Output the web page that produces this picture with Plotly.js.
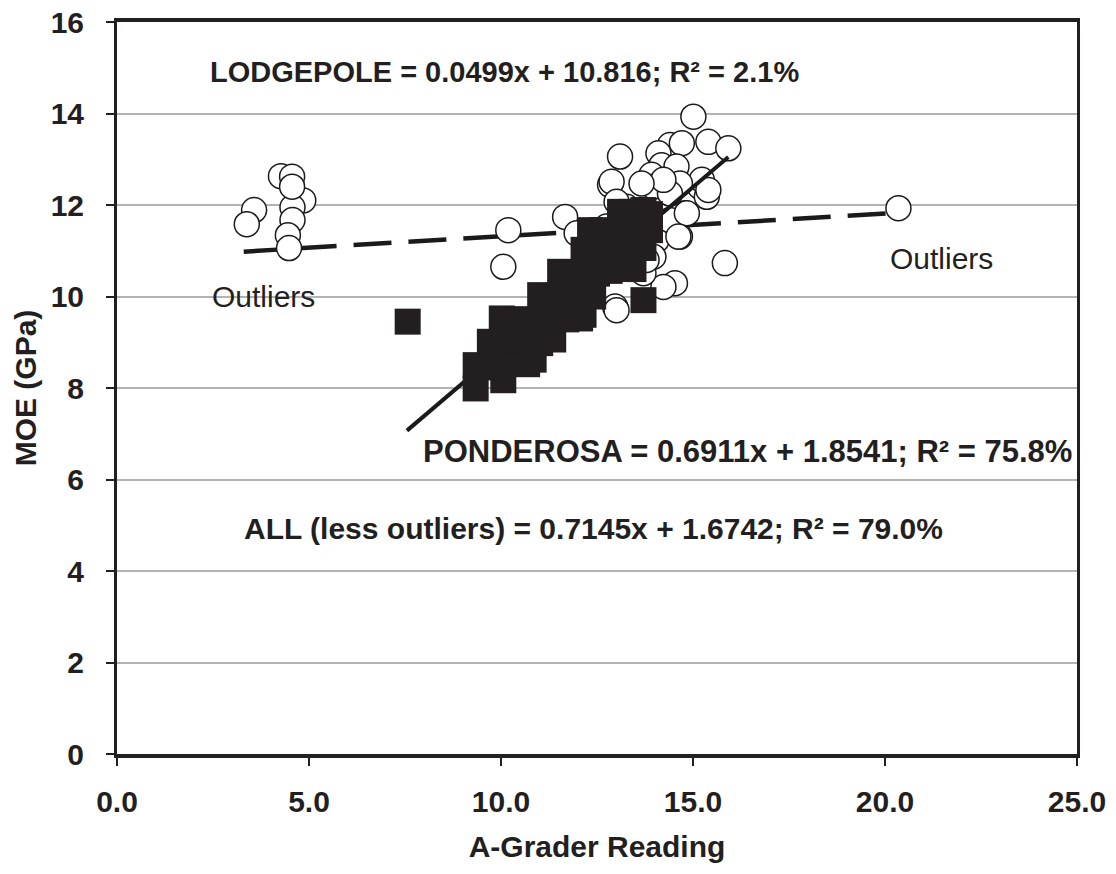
<!DOCTYPE html>
<html><head><meta charset="utf-8">
<script src="https://cdn.plot.ly/plotly-3.0.1.min.js"></script>
<style>body{margin:0;background:#fff}#chart{width:1116px;height:874px}</style>
</head><body><div id="chart"></div>
<script>
// Lodgepole (open circles)
const lodgeX = [3.57,3.38,4.27,4.56,4.85,4.57,4.57,4.45,4.48,4.56,
  10.19,10.06,11.67,11.97,13.10,12.84,12.88,15.83,14.53,14.23,12.97,14.66,14.79,14.05,13.97,13.71,13.45,12.75,13.27,14.32,15.18,15.36,14.40,
  15.01,15.40,15.92,14.40,14.10,14.71,14.18,14.57,13.92,13.97,15.23,15.40,14.66,14.40,14.84,13.62,13.01,14.23,13.66,14.62,13.01,13.79,20.35];
const lodgeY = [11.89,11.58,12.63,12.62,12.10,11.95,11.67,11.34,11.06,12.40,
  11.45,10.65,11.74,11.38,13.06,12.44,12.51,10.73,10.29,10.21,9.78,11.31,11.82,11.23,10.87,10.51,10.65,11.53,11.96,12.11,12.40,12.18,11.67,
  13.93,13.38,13.24,13.31,13.13,13.35,12.87,12.84,12.66,12.40,12.55,12.33,12.47,12.25,11.82,11.89,12.07,12.55,12.47,11.31,9.70,10.80,11.93];
// Ponderosa (filled squares)
const pondX = [7.57, 9.34,10.06, 9.34,9.65,9.97,10.30,10.68,10.85, 9.71,10.00,10.32,10.68,11.02,11.36,
  10.02,10.35,10.68,11.02,11.36,11.70,12.06,12.15, 11.02,11.35,11.71,12.05,12.40,13.71,
  11.54,11.85,12.14,12.50,12.83,13.45, 12.15,12.45,12.75,13.05,13.36,13.71,
  12.32,12.62,12.92,13.22,13.53,13.88, 13.10,13.40,13.71,13.88];
const pondY = [9.45, 7.99,8.17, 8.50,8.45,8.48,8.55,8.52,8.62, 9.01,9.00,9.03,9.05,8.98,9.06,
  9.52,9.50,9.50,9.48,9.55,9.50,9.52,9.60, 10.03,10.00,10.05,10.05,10.00,9.92,
  10.54,10.50,10.52,10.50,10.56,10.60, 11.02,11.00,11.04,11.00,11.00,11.06,
  11.45,11.45,11.43,11.45,11.47,11.45, 11.85,11.85,11.89,11.80];
// Trend lines
const lodgeSlope = 0.0499, lodgeInt = 10.816, lodgeRange = [3.3, 20.1];
const allSlope = 0.7145, allInt = 1.6742, allRange = [7.55, 15.92];
const eqLodge = "LODGEPOLE = 0.0499x + 10.816; R² = 2.1%";
const eqPond = "PONDEROSA = 0.6911x + 1.8541; R² = 75.8%";
const eqAll = "ALL (less outliers) = 0.7145x + 1.6742; R² = 79.0%";

const traces = [
  {x: lodgeRange, y: lodgeRange.map(v => lodgeSlope*v + lodgeInt), mode:'lines',
   line:{color:'#1a1a1a', width:4.5, dash:'38px,17px'}, hoverinfo:'skip'},
  {x: lodgeX, y: lodgeY, mode:'markers', name:'Lodgepole',
   marker:{symbol:'circle', size:25, color:'#ffffff', line:{color:'#1a1a1a', width:1.5}}},
  {x: allRange, y: allRange.map(v => allSlope*v + allInt), mode:'lines',
   line:{color:'#1a1a1a', width:4}, hoverinfo:'skip'},
  {x: pondX, y: pondY, mode:'markers', name:'Ponderosa',
   marker:{symbol:'square', size:26, color:'#231f20', line:{width:0}}}
];

const FAM = 'Liberation Sans, Arial, sans-serif';
const bold = {family:FAM, size:30, color:'#231f20', weight:'bold'};
const bold29 = {family:FAM, size:29, color:'#231f20', weight:'bold'};
const bold31 = {family:FAM, size:31, color:'#231f20', weight:'bold'};
const plain = {family:FAM, size:30, color:'#231f20'};
const layout = {
  width:1116, height:874,
  margin:{l:117, r:39, t:22, b:120},
  paper_bgcolor:'#fff', plot_bgcolor:'#fff',
  showlegend:false,
  xaxis:{range:[0,25], dtick:5, tick0:0, tickformat:'.1f', showgrid:false, zeroline:false,
    showline:true, mirror:true, linecolor:'#231f20', linewidth:3.5,
    ticks:'outside', ticklen:8, tickwidth:2, tickcolor:'#231f20', ticklabelstandoff:10,
    tickfont:bold, title:{text:'A-Grader Reading', font:bold, standoff:20}},
  yaxis:{range:[0,16], dtick:2, tick0:0, showgrid:true, gridcolor:'#b3b3b3', gridwidth:1.5, zeroline:false,
    showline:true, mirror:true, linecolor:'#231f20', linewidth:3,
    ticks:'outside', ticklen:8, tickwidth:2, tickcolor:'#231f20', ticklabelstandoff:16,
    tickfont:bold, title:{text:'MOE (GPa)', font:bold, standoff:6}},
  annotations:[
    {x:2.37, y:14.91, xref:'x', yref:'y', text:eqLodge, showarrow:false, xanchor:'left', font:bold29},
    {x:7.92, y:6.62, xref:'x', yref:'y', text:eqPond, showarrow:false, xanchor:'left', font:bold31},
    {x:3.26, y:4.94, xref:'x', yref:'y', text:eqAll, showarrow:false, xanchor:'left', font:bold},
    {x:2.42, y:10.01, xref:'x', yref:'y', text:'Outliers', showarrow:false, xanchor:'left', font:plain},
    {x:20.08, y:10.84, xref:'x', yref:'y', text:'Outliers', showarrow:false, xanchor:'left', font:plain}
  ]
};
Plotly.newPlot('chart', traces, layout, {displayModeBar:false});
</script></body></html>
